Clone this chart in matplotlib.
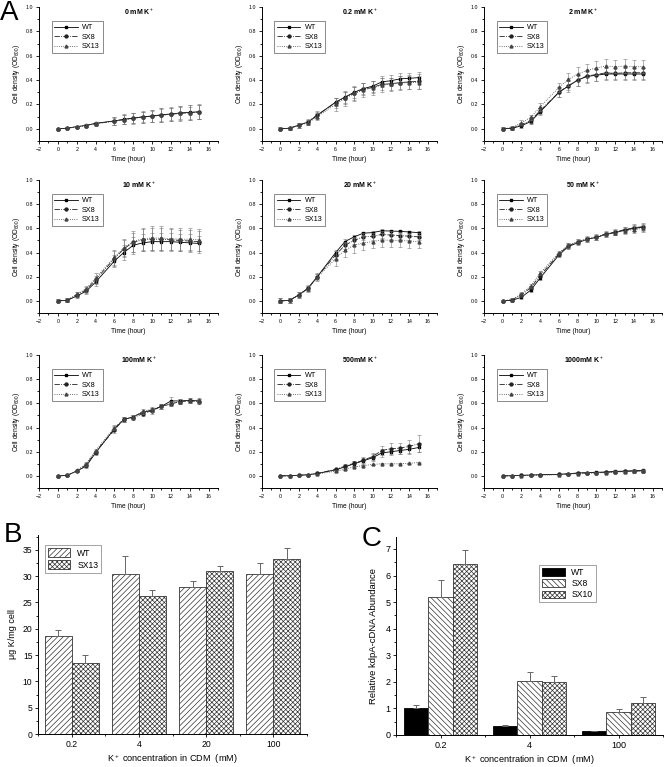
import matplotlib
matplotlib.use("Agg")
import matplotlib.pyplot as plt
from matplotlib.ticker import MultipleLocator
import numpy as np

plt.rcParams["font.family"] = ["Liberation Sans", "DejaVu Sans"]
plt.rcParams["mathtext.fontset"] = "custom"
plt.rcParams["mathtext.rm"] = "Liberation Sans"
plt.rcParams["hatch.linewidth"] = 0.5

# ---------------- panel A: growth curves ----------------
hours = [0, 1, 2, 3, 4, 6, 7, 8, 9, 10, 11, 12, 13, 14, 15]
titles = ["0 mM K$^+$", "0.2 mM K$^+$", "2 mM K$^+$",
          "10 mM K$^+$", "20 mM K$^+$", "50 mM K$^+$",
          "100mM K$^+$", "500mM K$^+$", "1000mM K$^+$"]

od_wt = [
    [0.0, 0.005, 0.018, 0.028, 0.045, 0.065, 0.078, 0.088, 0.098, 0.105, 0.115, 0.122, 0.130, 0.135, 0.140],
    [0.0, 0.005, 0.030, 0.055, 0.110, 0.220, 0.260, 0.300, 0.330, 0.350, 0.385, 0.395, 0.410, 0.415, 0.420],
    [0.0, 0.005, 0.025, 0.060, 0.140, 0.300, 0.350, 0.400, 0.430, 0.440, 0.450, 0.450, 0.450, 0.450, 0.450],
    [0.0, 0.005, 0.040, 0.080, 0.155, 0.330, 0.400, 0.460, 0.480, 0.490, 0.490, 0.490, 0.485, 0.480, 0.475],
    [0.0, 0.005, 0.050, 0.105, 0.200, 0.400, 0.490, 0.530, 0.560, 0.565, 0.580, 0.578, 0.575, 0.570, 0.565],
    [0.0, 0.005, 0.030, 0.090, 0.190, 0.380, 0.450, 0.480, 0.510, 0.525, 0.550, 0.565, 0.585, 0.600, 0.610],
    [0.0, 0.005, 0.040, 0.080, 0.190, 0.390, 0.465, 0.490, 0.525, 0.545, 0.575, 0.620, 0.620, 0.625, 0.620],
    [0.0, 0.002, 0.005, 0.010, 0.020, 0.050, 0.075, 0.100, 0.125, 0.150, 0.190, 0.200, 0.210, 0.220, 0.235],
    [0.0, 0.002, 0.005, 0.007, 0.010, 0.013, 0.018, 0.024, 0.027, 0.030, 0.032, 0.037, 0.040, 0.043, 0.045],
]
od_sx8 = [
    [0.0, 0.005, 0.017, 0.027, 0.043, 0.063, 0.076, 0.087, 0.097, 0.104, 0.113, 0.120, 0.128, 0.133, 0.138],
    [0.0, 0.005, 0.030, 0.058, 0.115, 0.215, 0.255, 0.290, 0.325, 0.340, 0.365, 0.370, 0.380, 0.385, 0.390],
    [0.0, 0.005, 0.035, 0.070, 0.150, 0.300, 0.355, 0.400, 0.435, 0.445, 0.460, 0.455, 0.460, 0.460, 0.460],
    [0.0, 0.005, 0.050, 0.090, 0.175, 0.350, 0.430, 0.485, 0.505, 0.510, 0.510, 0.505, 0.500, 0.495, 0.490],
    [0.0, 0.005, 0.050, 0.105, 0.200, 0.380, 0.460, 0.500, 0.530, 0.535, 0.550, 0.545, 0.540, 0.535, 0.530],
    [0.0, 0.010, 0.050, 0.110, 0.210, 0.390, 0.455, 0.490, 0.515, 0.530, 0.555, 0.570, 0.590, 0.605, 0.615],
    [0.0, 0.005, 0.040, 0.090, 0.200, 0.380, 0.470, 0.480, 0.515, 0.540, 0.575, 0.595, 0.615, 0.620, 0.615],
    [0.0, 0.002, 0.005, 0.010, 0.020, 0.055, 0.080, 0.105, 0.130, 0.160, 0.210, 0.225, 0.230, 0.245, 0.265],
    [0.0, 0.002, 0.004, 0.006, 0.009, 0.012, 0.017, 0.022, 0.025, 0.028, 0.030, 0.035, 0.037, 0.040, 0.042],
]
od_sx13 = [
    [0.0, 0.004, 0.016, 0.026, 0.042, 0.062, 0.075, 0.086, 0.096, 0.103, 0.112, 0.119, 0.127, 0.132, 0.137],
    [0.0, 0.003, 0.028, 0.050, 0.100, 0.200, 0.250, 0.290, 0.320, 0.335, 0.360, 0.365, 0.375, 0.380, 0.380],
    [0.0, 0.010, 0.050, 0.095, 0.180, 0.340, 0.405, 0.450, 0.480, 0.500, 0.515, 0.510, 0.515, 0.510, 0.510],
    [0.0, 0.005, 0.055, 0.100, 0.190, 0.360, 0.440, 0.490, 0.515, 0.520, 0.520, 0.515, 0.510, 0.510, 0.505],
    [0.0, 0.005, 0.045, 0.100, 0.195, 0.350, 0.420, 0.460, 0.480, 0.490, 0.505, 0.500, 0.500, 0.495, 0.490],
    [0.0, 0.010, 0.060, 0.125, 0.230, 0.400, 0.460, 0.490, 0.510, 0.525, 0.550, 0.565, 0.580, 0.590, 0.600],
    [0.0, 0.005, 0.045, 0.100, 0.210, 0.400, 0.470, 0.485, 0.535, 0.550, 0.575, 0.600, 0.615, 0.625, 0.625],
    [0.0, 0.000, 0.005, 0.010, 0.015, 0.040, 0.055, 0.075, 0.085, 0.095, 0.100, 0.100, 0.100, 0.105, 0.110],
    [0.0, 0.001, 0.003, 0.005, 0.007, 0.010, 0.014, 0.019, 0.022, 0.025, 0.027, 0.031, 0.034, 0.037, 0.040],
]

err_wt = [
    [0.006, 0.008, 0.008, 0.010, 0.015, 0.035, 0.040, 0.045, 0.050, 0.050, 0.055, 0.055, 0.055, 0.060, 0.060],
    [0.012, 0.012, 0.020, 0.020, 0.030, 0.035, 0.045, 0.045, 0.045, 0.045, 0.045, 0.045, 0.045, 0.045, 0.045],
    [0.012, 0.012, 0.015, 0.020, 0.025, 0.040, 0.045, 0.045, 0.050, 0.050, 0.050, 0.050, 0.050, 0.050, 0.050],
    [0.012, 0.015, 0.020, 0.020, 0.030, 0.050, 0.060, 0.070, 0.070, 0.070, 0.070, 0.070, 0.070, 0.070, 0.065],
    [0.020, 0.020, 0.020, 0.020, 0.020, 0.020, 0.020, 0.015, 0.012, 0.012, 0.012, 0.012, 0.012, 0.012, 0.012],
    [0.008, 0.010, 0.012, 0.015, 0.015, 0.015, 0.020, 0.020, 0.020, 0.020, 0.020, 0.020, 0.025, 0.025, 0.030],
    [0.005, 0.008, 0.010, 0.015, 0.015, 0.020, 0.020, 0.015, 0.015, 0.015, 0.020, 0.030, 0.020, 0.020, 0.020],
    [0.003, 0.003, 0.005, 0.005, 0.005, 0.010, 0.015, 0.020, 0.025, 0.030, 0.030, 0.030, 0.030, 0.035, 0.040],
    [0.003, 0.003, 0.003, 0.004, 0.004, 0.005, 0.006, 0.006, 0.008, 0.008, 0.008, 0.010, 0.010, 0.012, 0.012],
]
err_sx8 = [
    [0.006, 0.008, 0.008, 0.010, 0.015, 0.030, 0.035, 0.040, 0.045, 0.045, 0.050, 0.050, 0.050, 0.050, 0.055],
    [0.012, 0.012, 0.020, 0.020, 0.030, 0.040, 0.050, 0.050, 0.050, 0.050, 0.050, 0.050, 0.055, 0.055, 0.060],
    [0.012, 0.012, 0.015, 0.020, 0.025, 0.040, 0.040, 0.050, 0.050, 0.050, 0.050, 0.050, 0.050, 0.050, 0.050],
    [0.012, 0.015, 0.020, 0.025, 0.035, 0.060, 0.070, 0.080, 0.090, 0.095, 0.095, 0.090, 0.090, 0.090, 0.090],
    [0.020, 0.020, 0.025, 0.025, 0.030, 0.030, 0.030, 0.030, 0.030, 0.030, 0.030, 0.030, 0.030, 0.030, 0.030],
    [0.008, 0.010, 0.015, 0.015, 0.015, 0.015, 0.020, 0.020, 0.020, 0.025, 0.020, 0.025, 0.025, 0.030, 0.030],
    [0.005, 0.008, 0.010, 0.015, 0.015, 0.025, 0.020, 0.020, 0.020, 0.025, 0.020, 0.020, 0.020, 0.020, 0.020],
    [0.003, 0.003, 0.005, 0.005, 0.005, 0.010, 0.015, 0.020, 0.025, 0.030, 0.035, 0.045, 0.045, 0.055, 0.070],
    [0.003, 0.003, 0.003, 0.004, 0.004, 0.005, 0.006, 0.006, 0.008, 0.008, 0.008, 0.010, 0.010, 0.012, 0.012],
]
err_sx13 = [
    [0.006, 0.008, 0.008, 0.010, 0.015, 0.030, 0.035, 0.040, 0.045, 0.050, 0.055, 0.055, 0.060, 0.060, 0.060],
    [0.012, 0.012, 0.020, 0.020, 0.030, 0.050, 0.060, 0.060, 0.060, 0.060, 0.060, 0.055, 0.055, 0.055, 0.055],
    [0.012, 0.012, 0.020, 0.020, 0.030, 0.040, 0.050, 0.055, 0.055, 0.055, 0.055, 0.055, 0.055, 0.055, 0.055],
    [0.012, 0.015, 0.020, 0.025, 0.040, 0.060, 0.070, 0.085, 0.090, 0.100, 0.100, 0.090, 0.090, 0.090, 0.090],
    [0.020, 0.020, 0.025, 0.025, 0.030, 0.060, 0.060, 0.060, 0.060, 0.055, 0.055, 0.055, 0.055, 0.055, 0.055],
    [0.008, 0.010, 0.015, 0.015, 0.015, 0.015, 0.020, 0.020, 0.020, 0.020, 0.020, 0.020, 0.025, 0.030, 0.030],
    [0.005, 0.008, 0.010, 0.015, 0.015, 0.020, 0.020, 0.015, 0.020, 0.020, 0.020, 0.020, 0.020, 0.020, 0.020],
    [0.003, 0.003, 0.004, 0.004, 0.004, 0.005, 0.005, 0.005, 0.005, 0.005, 0.005, 0.005, 0.005, 0.005, 0.005],
    [0.003, 0.003, 0.003, 0.004, 0.004, 0.005, 0.006, 0.006, 0.008, 0.008, 0.008, 0.010, 0.010, 0.012, 0.012],
]

# ---------------- panel B: K content ----------------
b_conc = ["0.2", "4", "20", "100"]
b_wt = [18.6, 30.3, 27.9, 30.3]
b_wt_err = [1.2, 3.5, 1.2, 2.2]
b_sx13 = [13.5, 26.2, 31.0, 33.2]
b_sx13_err = [1.5, 1.2, 0.9, 2.2]

# ---------------- panel C: kdpA expression ----------------
c_conc = ["0.2", "4", "100"]
c_wt = [1.0, 0.35, 0.14]
c_wt_err = [0.12, 0.02, 0.01]
c_sx8 = [5.2, 2.02, 0.88]
c_sx8_err = [0.65, 0.34, 0.09]
c_sx10 = [6.44, 1.98, 1.21]
c_sx10_err = [0.53, 0.23, 0.21]

W, H = 664, 767
fig = plt.figure(figsize=(W / 100, H / 100), dpi=100)


def px_axes(left, top, right, bottom):
    return fig.add_axes([left / W, 1 - bottom / H, (right - left) / W, (bottom - top) / H])


def origin_style(ax, fs):
    ax.spines["top"].set_visible(False)
    ax.spines["right"].set_visible(False)
    for s in ("left", "bottom"):
        ax.spines[s].set_linewidth(0.7)
    ax.tick_params(which="both", direction="out", width=0.6, labelsize=fs, pad=1.5)
    ax.tick_params(which="major", length=2.5)
    ax.tick_params(which="minor", length=1.5)


cols = [(39, 218), (262, 437), (484, 662)]
rows = [(7, 141), (180, 313), (355, 488)]

styles = [("WT", "-", "s", "black"), ("SX8", "-.", "o", "#222222"), ("SX13", ":", "^", "#444444")]

for i in range(9):
    r, c = divmod(i, 3)
    ax = px_axes(cols[c][0], rows[r][0], cols[c][1], rows[r][1])
    origin_style(ax, 3.8)
    series = [(od_wt[i], err_wt[i]), (od_sx8[i], err_sx8[i]), (od_sx13[i], err_sx13[i])]
    for (lab, ls, mk, col), (m, e) in zip(styles, series):
        ax.errorbar(hours, m, yerr=e, fmt="none", ecolor="#777777",
                    elinewidth=0.4, capsize=1.2, capthick=0.4)
        ax.plot(hours, m, linestyle=ls, marker=mk, color=col, lw=0.6,
                ms=2.1, label=lab)
    ax.set_xlim(-2, 17)
    ax.set_ylim(-0.1, 1.0)
    ax.xaxis.set_minor_locator(MultipleLocator(1))
    ax.yaxis.set_minor_locator(MultipleLocator(0.1))
    ax.set_yticks([0.0, 0.2, 0.4, 0.6, 0.8, 1.0])
    ax.set_yticklabels(["0.0", "0.2", "0.4", "0.6", "0.8", "1.0"])
    ax.set_xticks(list(range(-2, 17, 2)))
    ax.set_xlabel("Time (hour)", fontsize=4.8, labelpad=3)
    ax.set_ylabel("Cell density (OD$_{600}$)", fontsize=4.8, labelpad=3)
    ax.text(0.56, 1.0, titles[i], transform=ax.transAxes, ha="center", va="top",
            fontsize=5, fontweight="bold")
    leg = ax.legend(loc="upper left", bbox_to_anchor=(0.05, 0.92), fontsize=5.2,
                    frameon=True, fancybox=False, edgecolor="#555555",
                    handlelength=3.2, borderpad=0.4, labelspacing=0.35,
                    handletextpad=0.6)
    leg.get_frame().set_linewidth(0.6)

fig.text(0.0 / W, 1 - 0 / H, "A", fontsize=20, va="top", ha="left")

# ---------------- B ----------------
axb = px_axes(38, 535, 307, 734)
origin_style(axb, 6.2)
xb = np.arange(1, len(b_conc) + 1)
bw = 0.4
axb.bar(xb - bw / 2, b_wt, bw, color="white", edgecolor="#333333", hatch="//////",
        linewidth=0.6, label="WT")
axb.bar(xb + bw / 2, b_sx13, bw, color="white", edgecolor="#333333", hatch="xxxxxxx",
        linewidth=0.6, label="SX13")
axb.errorbar(xb - bw / 2, b_wt, yerr=[np.zeros(4), b_wt_err], fmt="none",
             ecolor="#666666", elinewidth=0.7, capsize=2.5, capthick=0.7)
axb.errorbar(xb + bw / 2, b_sx13, yerr=[np.zeros(4), b_sx13_err], fmt="none",
             ecolor="#666666", elinewidth=0.7, capsize=2.5, capthick=0.7)
axb.set_xlim(0.5, len(b_conc) + 0.5)
axb.set_ylim(0, 37.8)
axb.set_xticks(xb)
axb.set_xticklabels(b_conc)
axb.xaxis.set_minor_locator(MultipleLocator(0.5))
axb.yaxis.set_major_locator(MultipleLocator(5))
axb.yaxis.set_minor_locator(MultipleLocator(2.5))
axb.set_ylabel("\u03bcg K/mg cell", fontsize=6.5, labelpad=4)
axb.set_xlabel("K$^+$ concentration in CDM  (mM)", fontsize=6.6, labelpad=3)
lb = axb.legend(loc="upper left", bbox_to_anchor=(0.01, 0.97), fontsize=6.2,
                frameon=True, fancybox=False, edgecolor="#777777",
                handlelength=2.6, handleheight=1.2, borderpad=0.35,
                labelspacing=0.3)
lb.get_frame().set_linewidth(0.6)
fig.text(4 / W, 1 - 522 / H, "B", fontsize=20, va="top", ha="left")

# ---------------- C ----------------
axc = px_axes(396, 537, 663, 735)
origin_style(axc, 6.5)
xc = np.arange(1, len(c_conc) + 1)
cw = 0.27
axc.bar(xc - cw, c_wt, cw, color="black", edgecolor="black", linewidth=0.6, label="WT")
axc.bar(xc, c_sx8, cw, color="white", edgecolor="#333333", hatch="\\\\\\\\\\\\",
        linewidth=0.6, label="SX8")
axc.bar(xc + cw, c_sx10, cw, color="white", edgecolor="#333333", hatch="xxxxxxx",
        linewidth=0.6, label="SX10")
for off, vals, errs in [(-cw, c_wt, c_wt_err), (0, c_sx8, c_sx8_err), (cw, c_sx10, c_sx10_err)]:
    axc.errorbar(xc + off, vals, yerr=[np.zeros(3), errs], fmt="none",
                 ecolor="#666666", elinewidth=0.7, capsize=2.5, capthick=0.7)
axc.set_xlim(0.5, len(c_conc) + 0.5)
axc.set_ylim(0, 7.45)
axc.set_xticks(xc)
axc.set_xticklabels(c_conc)
axc.xaxis.set_minor_locator(MultipleLocator(0.5))
axc.yaxis.set_major_locator(MultipleLocator(1))
axc.yaxis.set_minor_locator(MultipleLocator(0.5))
axc.set_ylabel("Relative kdpA-cDNA Abundance", fontsize=6.8, labelpad=5)
axc.set_xlabel("K$^+$ concentration in CDM  (mM)", fontsize=6.6, labelpad=3)
lc = axc.legend(loc="upper left", bbox_to_anchor=(0.52, 0.88), fontsize=6.2,
                frameon=True, fancybox=False, edgecolor="#777777",
                handlelength=2.6, handleheight=1.0, borderpad=0.35,
                labelspacing=0.25)
lc.get_frame().set_linewidth(0.6)
fig.text(362 / W, 1 - 526 / H, "C", fontsize=20, va="top", ha="left")

fig.savefig("out.png", dpi=100)
